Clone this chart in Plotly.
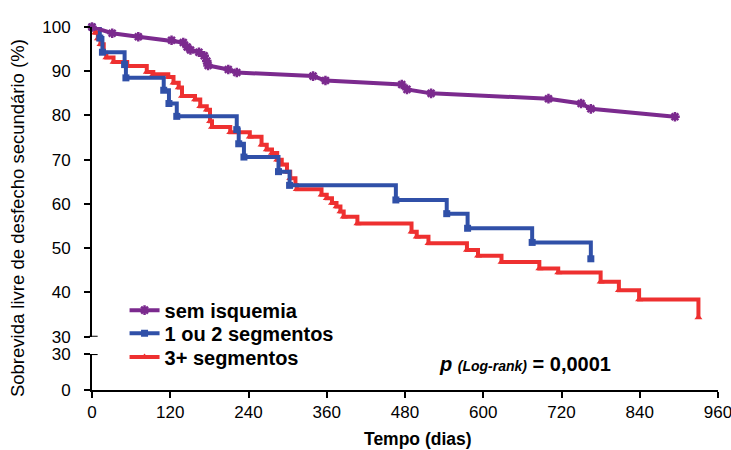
import plotly.graph_objects as go

# ---- data ----
sem_t = [0, 31, 71, 122, 140, 146, 151, 164, 172, 176, 178, 209, 222, 339, 358, 475, 483, 520, 700, 750, 765, 894]
sem_s = [100, 98.6, 97.8, 97.0, 96.5, 95.5, 94.8, 94.3, 93.5, 92.3, 91.3, 90.4, 89.7, 88.9, 87.9, 87.0, 85.9, 85.0, 83.8, 82.7, 81.5, 79.7]

seg12_t = [0, 12, 16, 50, 52, 110, 118, 130, 222, 225, 233, 286, 303, 466, 544, 576, 675, 765]
seg12_s = [100, 97.5, 94.3, 91.5, 88.5, 85.7, 82.7, 79.8, 76.8, 73.6, 70.6, 67.3, 64.2, 60.9, 57.8, 54.5, 51.3, 47.6]

seg3_t = [0, 5, 9, 13, 18, 22, 33, 54, 84, 94, 117, 125, 133, 138, 158, 166, 176, 181, 184, 212, 242,
          260, 268, 276, 284, 291, 299, 304, 312, 314, 352, 360, 368, 375, 381, 386, 407, 490, 498, 516,
          575, 592, 628, 686, 715, 780, 808, 839, 930]
seg3_s = [100, 98.7, 97.4, 96.1, 94.2, 93.1, 92.1, 91.2, 89.8, 89.3, 88.7, 87.4, 86.3, 84.4, 83.6, 82.1, 81.3, 78.7, 77.4, 76.2, 75.2,
          73.4, 72.3, 71.5, 70.0, 68.9, 67.3, 65.8, 64.3, 63.3, 62.1, 61.3, 60.2, 59.4, 58.3, 57.1, 55.6, 53.7, 52.6, 51.1,
          49.6, 48.3, 46.9, 45.4, 44.5, 42.4, 40.5, 38.4, 34.3]

x_ticks = [0, 120, 240, 360, 480, 600, 720, 840, 960]
y_top_ticks = [30, 40, 50, 60, 70, 80, 90, 100]
y_bot_ticks = [0, 30]

PURPLE = "#7B2A8E"
BLUE = "#3050A8"
RED = "#EE3030"
FONT = "Liberation Sans, Arial, sans-serif"

fig = go.Figure()

fig.add_trace(go.Scatter(
    x=seg3_t, y=seg3_s, yaxis="y2", name="<b>3+ segmentos</b>", mode="lines+markers",
    line=dict(color=RED, width=4, shape="hv"),
    marker=dict(symbol="triangle-up", size=7, color=RED),
    cliponaxis=False, legend="legend3"))
fig.add_trace(go.Scatter(
    x=seg12_t, y=seg12_s, yaxis="y2", name="<b>1 ou 2 segmentos</b>", mode="lines+markers",
    line=dict(color=BLUE, width=4, shape="hv"),
    marker=dict(symbol="square", size=7, color=BLUE),
    cliponaxis=False, legend="legend2"))
fig.add_trace(go.Scatter(
    x=sem_t, y=sem_s, yaxis="y2", name="<b>sem isquemia</b>", mode="lines+markers",
    line=dict(color=PURPLE, width=4),
    marker=dict(symbol="asterisk-open", size=8, color=PURPLE, line=dict(color=PURPLE, width=2.5)),
    cliponaxis=False, legend="legend"))

axis_common = dict(showline=True, linecolor="black", linewidth=2, ticks="outside",
                   ticklen=6, tickwidth=2, tickcolor="black", showgrid=False, zeroline=False,
                   automargin=False,
                   tickfont=dict(family=FONT, size=17, color="black"))

leg_common = dict(xanchor="left", yanchor="middle", bgcolor="rgba(0,0,0,0)",
                  font=dict(family=FONT, size=20, color="black"), itemwidth=30)

fig.update_layout(
    width=731, height=450,
    margin=dict(l=92, r=13, t=27, b=60),
    paper_bgcolor="white", plot_bgcolor="white",
    font=dict(family=FONT, color="black"),
    xaxis=dict(range=[0, 960], tickvals=x_ticks, anchor="y", ticklabeloverflow="allow", **axis_common),
    yaxis=dict(range=[0, 30], tickvals=y_bot_ticks, domain=[0, 0.099], anchor="x",
               ticklabelstandoff=10, **axis_common),
    yaxis2=dict(range=[30, 100], tickvals=y_top_ticks, domain=[0.147, 1], anchor="x",
                ticklabelstandoff=10, **axis_common),
    legend=dict(x=0.052, y=0.220, **leg_common),
    legend2=dict(x=0.052, y=0.156, **leg_common),
    legend3=dict(x=0.052, y=0.091, **leg_common),
    showlegend=True,
)

# axis-break dashes at 30
fig.add_shape(type="line", xref="paper", yref="y2", x0=-0.005, x1=0.009, y0=30, y1=30,
              line=dict(color="black", width=2))
fig.add_shape(type="line", xref="paper", yref="y", x0=0, x1=0.009, y0=30, y1=30,
              line=dict(color="black", width=2))

# titles
fig.add_annotation(text="Sobrevida livre de desfecho secundário (%)", xref="paper", yref="paper",
                   x=-0.118, y=0.474, xanchor="center", yanchor="middle", textangle=-90, showarrow=False,
                   font=dict(family=FONT, size=18.5, color="black"))
fig.add_annotation(text="<b>Tempo (dias)</b>", xref="paper", yref="paper",
                   x=0.521, y=-0.135, xanchor="center", yanchor="middle", showarrow=False,
                   font=dict(family=FONT, size=17.5, color="black"))
fig.add_annotation(text="<b><i>p</i> <span style='font-size:14px'><i>(Log-rank)</i></span> = 0,0001</b>",
                   xref="x", yref="y", x=664, y=21.7, xanchor="center", yanchor="middle", showarrow=False,
                   font=dict(family=FONT, size=20, color="black"))

fig.write_html("out.html")
